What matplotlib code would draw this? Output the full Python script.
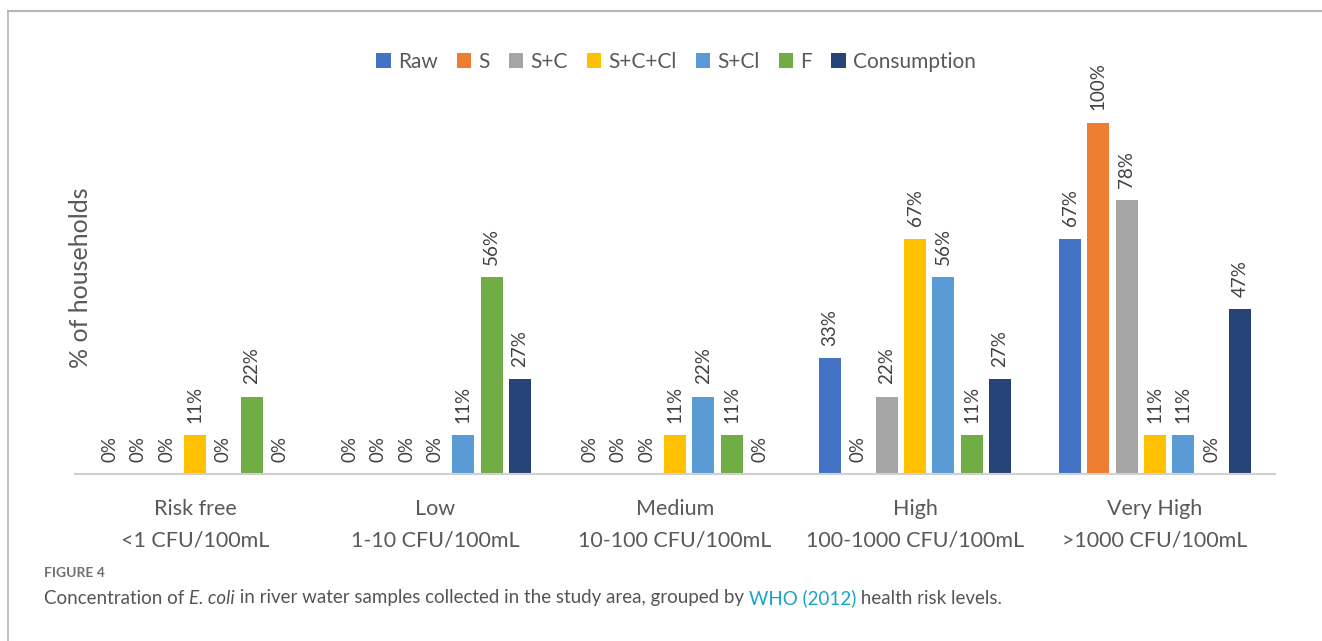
import matplotlib
matplotlib.use("Agg")
import matplotlib.pyplot as plt
import numpy as np
from matplotlib.patches import Patch
from matplotlib.lines import Line2D

plt.rcParams['font.family'] = ['Lato', 'DejaVu Sans']

categories = ["Risk free\n<1 CFU/100mL", "Low\n1-10 CFU/100mL", "Medium\n10-100 CFU/100mL",
              "High\n100-1000 CFU/100mL", "Very High\n>1000 CFU/100mL"]
series_names = ["Raw", "S", "S+C", "S+C+Cl", "S+Cl", "F", "Consumption"]
raw = [0, 0, 0, 33, 67]
s = [0, 0, 0, 0, 100]
s_c = [0, 0, 0, 22, 78]
s_c_cl = [11, 0, 11, 67, 11]
s_cl = [0, 11, 22, 56, 11]
f = [22, 56, 11, 11, 0]
consumption = [0, 27, 0, 27, 47]
colors = ["#4472C4", "#ED7D31", "#A5A5A5", "#FFC000", "#5B9BD5", "#70AD47", "#264478"]

series = [raw, s, s_c, s_c_cl, s_cl, f, consumption]

W, H = 1322, 641
fig = plt.figure(figsize=(W / 100, H / 100), dpi=100)

# frame lines (top and left)
fig.add_artist(Line2D([8 / W, 1], [1 - 11 / H, 1 - 11 / H], color="#b5b5b5", lw=1.5))
fig.add_artist(Line2D([8 / W, 8 / W], [0, 1 - 11 / H], color="#b5b5b5", lw=1.2))

ax = fig.add_axes([75 / W, 1 - 474 / H, 1200 / W, (474 - 123) / H])
x = np.arange(len(categories))
pitch = 0.118
width = 0.092
for i, (name, vals, c) in enumerate(zip(series_names, series, colors)):
    pos = x + (i - 3) * pitch
    ax.bar(pos, vals, width=width, color=c, label=name, zorder=2)
    for px, v in zip(pos, vals):
        ax.annotate(f"{v}%", (px, v), xytext=(0, 9), textcoords="offset points",
                    rotation=90, ha="center", va="bottom", fontsize=13.5,
                    color="#404040", annotation_clip=False)

ax.set_xlim(-0.5, len(categories) - 0.5)
ax.set_ylim(0, 100)
ax.set_yticks([])
ax.set_xticks(x)
ax.set_xticklabels(categories, fontsize=15.5, color="#595959", linespacing=1.7)
ax.tick_params(axis="x", length=0, pad=18)
for sp in ["top", "right", "left"]:
    ax.spines[sp].set_visible(False)
ax.spines["bottom"].set_color("#d0d0d0")
ax.spines["bottom"].set_linewidth(1.5)
ax.set_ylabel("% of households", fontsize=18, color="#595959")
ax.yaxis.set_label_coords(0.014, 0.56)

handles = [Patch(facecolor=c, label=n) for n, c in zip(series_names, colors)]
fig.legend(handles=handles, loc="center", bbox_to_anchor=(676 / W, 1 - 62 / H), ncol=7,
           frameon=False, fontsize=15, handlelength=0.7, handleheight=0.7,
           handletextpad=0.35, columnspacing=0.9, labelcolor="#595959")

# caption
fig.text(44 / W, 1 - 573 / H, "FIGURE 4", fontsize=10, color="#707070",
         fontweight="bold", va="center")
cap_y = 1 - 598 / H
pieces = [("Concentration of ", "normal", "#555555"),
          ("E. coli", "italic", "#555555"),
          (" in river water samples collected in the study area, grouped by ", "normal", "#555555"),
          ("WHO (2012)", "normal", "#1BA3C6"),
          (" health risk levels.", "normal", "#555555")]
renderer = fig.canvas.get_renderer()
xpos = 44 / W
for txt, style, col in pieces:
    t = fig.text(xpos, cap_y, txt, fontsize=13.5, color=col, style=style, va="center")
    bb = t.get_window_extent(renderer=renderer)
    xpos = bb.x1 / W

fig.savefig("out.png", dpi=100)
